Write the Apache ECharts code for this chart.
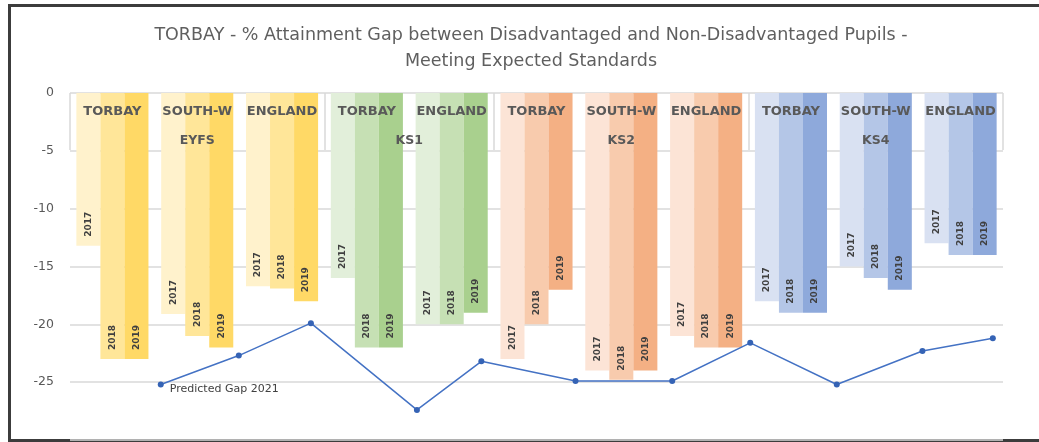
<!DOCTYPE html>
<html>
<head>
<meta charset="utf-8">
<script src="https://cdn.jsdelivr.net/npm/echarts@6/dist/echarts.min.js"></script>
<style>
  html, body { margin: 0; padding: 0; background: #fff; overflow: hidden; }
  .frame {
    position: absolute; left: 8px; top: 4px; width: 1028px; height: 432px;
    border-left: 3px solid #3c3c3c; border-top: 3px solid #3c3c3c; border-bottom: 3px solid #3c3c3c;
  }
  #chart { position: absolute; left: 0; top: 0; width: 1039px; height: 442px; }
</style>
</head>
<body>
<div class="frame"></div>
<div id="chart"></div>
<script>
// areas along the axis, and the phase each one belongs to
const categories = ['TORBAY', 'SOUTH-W', 'ENGLAND', 'TORBAY', 'ENGLAND', 'TORBAY', 'SOUTH-W', 'ENGLAND', 'TORBAY', 'SOUTH-W', 'ENGLAND']
const phases = ['EYFS', 'EYFS', 'EYFS', 'KS1', 'KS1', 'KS2', 'KS2', 'KS2', 'KS4', 'KS4', 'KS4']
const years = ['2017', '2018', '2019']

// % gap per year
const gap2017 = [-13.2, -19.1, -16.7, -16, -20, -23, -24, -21, -18, -15, -13]
const gap2018 = [-23, -21, -16.9, -22, -20, -20, -24.8, -22, -19, -16, -14]
const gap2019 = [-23, -22, -18, -22, -19, -17, -24, -22, -19, -17, -14]

// predicted gap 2021 (x in category units)
const predictedPos = [1.07, 1.99, 2.84, 4.09, 4.85, 5.96, 7.10, 8.02, 9.04, 10.05, 10.88]
const predictedGap = [-25.2, -22.7, -19.9, -27.4, -23.2, -24.9, -24.9, -21.6, -25.2, -22.3, -21.2]

const yTicks = [0, -5, -10, -15, -20, -25]

const palette = {
  EYFS: ['#FFF2CC', '#FFE699', '#FFD966'],
  KS1: ['#E2EFDA', '#C6E0B4', '#A9D08E'],
  KS2: ['#FCE4D6', '#F8CBAD', '#F4B084'],
  KS4: ['#D9E1F2', '#B4C6E7', '#8EA9DB']
}
const font = '"DejaVu Sans", sans-serif'

// group boundaries + centres from the phases list
const bounds = [0]
const centres = {}
let start = 0
for (let i = 1; i <= phases.length; i++) {
  if (i === phases.length || phases[i] !== phases[start]) {
    bounds.push(i)
    centres[(start + i) / 2] = phases[start]
    start = i
  }
}

const gaps = [gap2017, gap2018, gap2019]
const barSeries = years.map((yr, k) => ({
  name: yr,
  type: 'bar',
  xAxisIndex: 0,
  barGap: '0%',
  barCategoryGap: '15%',
  data: gaps[k].map((v, i) => ({ value: v, itemStyle: { color: palette[phases[i]][k] } })),
  label: {
    show: true,
    formatter: yr,
    rotate: 90,
    position: 'insideBottom',
    align: 'left',
    verticalAlign: 'middle',
    distance: 9,
    fontFamily: font,
    fontSize: 9,
    fontWeight: 'bold',
    color: '#404040'
  }
}))

const chart = echarts.init(document.getElementById('chart'))
chart.setOption({
  animation: false,
  title: {
    text: 'TORBAY - % Attainment Gap between Disadvantaged and Non-Disadvantaged Pupils -\nMeeting Expected Standards',
    left: 526,
    textAlign: 'center',
    top: 17,
    textStyle: { fontFamily: font, fontSize: 17.5, fontWeight: 'normal', color: '#5f5f5f', lineHeight: 26 }
  },
  grid: { left: 70, right: 36, top: 93, bottom: 2 },
  xAxis: [
    {
      type: 'category',
      data: categories,
      position: 'top',
      z: 10,
      axisLine: { show: false, onZero: false },
      axisTick: { show: false },
      axisLabel: {
        inside: true, interval: 0, margin: 12,
        fontFamily: font, fontSize: 13, fontWeight: 'bold', color: '#595959'
      }
    },
    {
      type: 'value',
      min: 0,
      max: categories.length,
      position: 'top',
      z: 10,
      axisLine: { show: false, onZero: false },
      splitLine: { show: false },
      axisTick: { show: true, inside: true, length: 57, customValues: bounds, lineStyle: { color: '#d9d9d9', width: 1.5 } },
      axisLabel: {
        inside: true, margin: 41,
        customValues: Object.keys(centres).map(Number),
        formatter: v => centres[v] || '',
        fontFamily: font, fontSize: 12.5, fontWeight: 'bold', color: '#595959'
      }
    }
  ],
  yAxis: {
    type: 'value',
    min: -30,
    max: 0,
    interval: 5,
    axisLine: { show: false },
    axisTick: { show: false },
    axisLabel: {
      margin: 16, showMinLabel: false,
      formatter: v => yTicks.includes(v) ? String(v) : '',
      fontFamily: font, fontSize: 12.5, color: '#595959'
    },
    splitLine: { lineStyle: { color: '#d9d9d9', width: 1.5 } }
  },
  series: barSeries.concat([{
    name: 'Predicted Gap 2021',
    type: 'line',
    xAxisIndex: 1,
    z: 5,
    symbol: 'circle',
    symbolSize: 6,
    lineStyle: { color: '#4472C4', width: 1.5 },
    itemStyle: { color: '#3563B5' },
    data: predictedPos.map((x, i) => i === 0
      ? { value: [x, predictedGap[i]], label: { show: true, formatter: 'Predicted Gap 2021', position: 'right', distance: 6, offset: [0, 5], fontFamily: font, fontSize: 11, color: '#404040' } }
      : [x, predictedGap[i]])
  }])
})
</script>
</body>
</html>
